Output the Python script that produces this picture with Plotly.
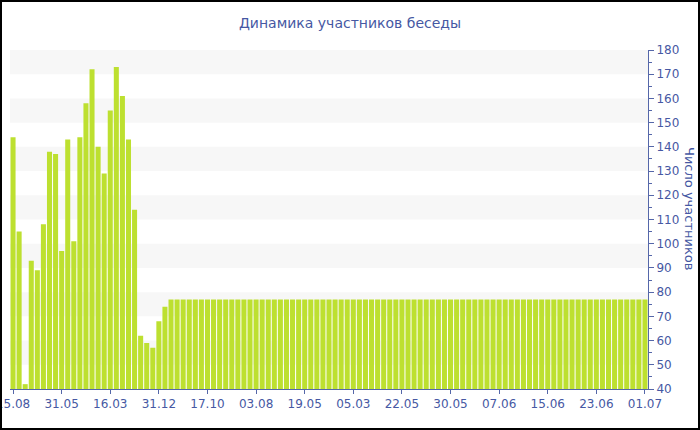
import plotly.graph_objects as go

# Data
participants = [144, 105, 42, 93, 89, 108, 138, 137, 97, 143, 101, 144, 158, 172,
                140, 129, 155, 173, 161, 143, 114, 62, 59, 57, 68, 74, 77, 77] + [77] * 77
tick_labels = ["15.08", "31.05", "16.03", "31.12", "17.10", "03.08", "19.05",
               "05.03", "22.05", "30.05", "07.06", "15.06", "23.06", "01.07"]
tick_step = 8

W, H = 700, 430
L, R, T, B = 10, 52, 50, 41
pw, ph = W - L - R, H - T - B

x_idx = list(range(len(participants)))
tick_positions = [i * tick_step for i in range(len(tick_labels))]

blue = "#4658a3"
axis_blue = "#5567a9"
bar_col = "#BDE030"

fig = go.Figure()
fig.add_trace(go.Bar(
    x=x_idx, y=participants,
    marker=dict(color=bar_col, line=dict(width=0)),
    hoverinfo="y",
))

shapes = []
for lo in range(50, 180, 20):
    shapes.append(dict(type="rect", xref="paper", yref="y", x0=0, x1=1,
                       y0=lo, y1=lo + 10, fillcolor="#f7f7f7",
                       line=dict(width=0), layer="below"))
# figure border
shapes.append(dict(type="rect", xref="paper", yref="paper",
                   x0=(1 - L) / pw, x1=(W - 1 - L) / pw,
                   y0=(ph + T - (H - 1)) / ph, y1=(ph + T - 1) / ph,
                   line=dict(color="black", width=2), fillcolor="rgba(0,0,0,0)"))

fig.update_layout(
    width=W, height=H,
    margin=dict(l=L, r=R, t=T, b=B),
    paper_bgcolor="white", plot_bgcolor="white",
    bargap=0.17,
    showlegend=False,
    font=dict(family="DejaVu Sans", size=12, color=blue),
    title=dict(text="Динамика участников беседы", x=0.5, xref="container",
               y=1 - 23 / H, yref="container", yanchor="middle", xanchor="center",
               font=dict(family="DejaVu Sans", size=14, color=blue)),
    xaxis=dict(range=[-0.5, len(participants) - 0.5], tickvals=tick_positions,
               ticktext=tick_labels, ticks="outside", ticklen=4, tickcolor=axis_blue,
               showline=True, linecolor=axis_blue, linewidth=1, showgrid=False,
               zeroline=False, tickfont=dict(size=12, color=blue), automargin=False,
               ticklabeloverflow="allow"),
    yaxis=dict(range=[40, 180], side="right", dtick=10, ticks="outside", ticklen=5,
               tickcolor=axis_blue, showline=True, linecolor=axis_blue, linewidth=1,
               showgrid=False, zeroline=False, tickfont=dict(size=12, color=blue),
               minor=dict(dtick=5, ticklen=3, tickcolor=axis_blue, ticks="outside"),
               automargin=False, ticklabeloverflow="allow"),
    shapes=shapes,
    annotations=[dict(text="Число участников", xref="paper", yref="paper",
                      x=(690 - L) / pw, y=(389 - 208) / ph, textangle=90,
                      showarrow=False, xanchor="center", yanchor="middle",
                      font=dict(family="DejaVu Sans", size=13, color=blue))],
)

fig.write_html("out.html", config={"displayModeBar": False},
               post_script="document.body.style.margin='0';document.body.style.overflow='hidden';")
